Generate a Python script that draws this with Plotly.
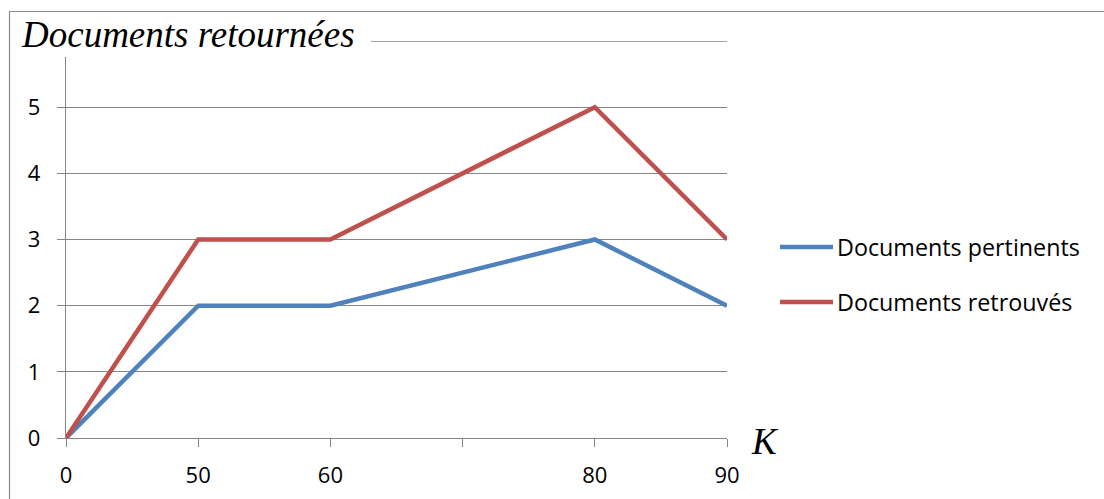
import plotly.graph_objects as go

# K values on the category axis (one unlabeled slot between 60 and 80)
k_labels = ["0", "50", "60", "", "80", "90"]
docs_pertinents = [0, 2, 2, None, 3, 2]
docs_retrouves = [0, 3, 3, None, 5, 3]
series_names = ["Documents pertinents", "Documents retrouvés"]
series_colors = ["#4F81BD", "#C0504D"]
y_tick_vals = [0, 1, 2, 3, 4, 5, 6]
y_tick_text = ["0", "1", "2", "3", "4", "5", ""]
y_max = 6

W, H = 1104, 499
L, R, T, B = 66, 727, 41, 438  # plot area edges in pixels


def px(x):
    return (x - L) / (R - L)


def py(y):
    return (B - y) / (B - T)


x_idx = list(range(len(k_labels)))
fig = go.Figure()
for name, vals, col in zip(series_names, [docs_pertinents, docs_retrouves], series_colors):
    fig.add_trace(go.Scatter(
        x=x_idx, y=vals, name=name, mode="lines", connectgaps=True,
        line=dict(color=col, width=4.5), showlegend=False,
    ))

grey = "#868686"
tick_font = dict(family="Open Sans, Calibri, sans-serif", size=22, color="#000000")
legend_font = dict(family="Open Sans, Calibri, sans-serif", size=23.3, color="#000000")

fig.update_layout(
    width=W, height=H,
    margin=dict(l=L, r=W - R, t=T, b=H - B, autoexpand=False),
    paper_bgcolor="white", plot_bgcolor="white",
    xaxis=dict(
        range=[0, len(k_labels) - 1], tickvals=x_idx, ticktext=k_labels,
        showgrid=False, zeroline=False, showline=True, linecolor=grey, linewidth=1.3,
        ticks="outside", ticklen=8, tickcolor=grey, tickwidth=1.3,
        tickfont=tick_font, ticklabelstandoff=9, automargin=False,
    ),
    yaxis=dict(
        range=[0, y_max], tickvals=y_tick_vals, ticktext=y_tick_text,
        showgrid=True, gridcolor=grey, gridwidth=1.3, zeroline=False,
        showline=True, linecolor=grey, linewidth=1.3,
        ticks="outside", ticklen=8, tickcolor=grey, tickwidth=1.3,
        tickfont=tick_font, ticklabelstandoff=12, automargin=False,
    ),
    showlegend=False,
)

shapes = []
# top gridline at the upper end of the value axis
shapes.append(dict(type="line", xref="x", yref="y", layer="below",
                   x0=x_idx[0], x1=x_idx[-1], y0=y_max, y1=y_max,
                   line=dict(color=grey, width=1.3)))
# white box behind the axis title at top-left
shapes.append(dict(type="rect", xref="paper", yref="paper", layer="above",
                   x0=px(10.5), x1=px(371), y0=py(12), y1=py(57),
                   fillcolor="white", line=dict(width=0)))
# outer chart frame
shapes.append(dict(type="rect", xref="paper", yref="paper", layer="above",
                   x0=px(9.5), x1=px(1120), y0=py(11.5), y1=py(520),
                   fillcolor="rgba(0,0,0,0)", line=dict(color="#8a8a8a", width=1.2)))

# legend
legend_y = [247, 302]
annotations = []
for name, col, yy in zip(series_names, series_colors, legend_y):
    shapes.append(dict(type="line", xref="paper", yref="paper", layer="above",
                       x0=px(780), x1=px(833), y0=py(yy), y1=py(yy),
                       line=dict(color=col, width=4.5)))
    annotations.append(dict(xref="paper", yref="paper", x=px(835), y=py(yy),
                            xanchor="left", yanchor="middle", showarrow=False,
                            text=name, font=legend_font))

serif = dict(family="Liberation Serif, Times New Roman, serif", size=37,
             color="#000000", style="italic")
annotations.append(dict(xref="paper", yref="paper", x=px(19), y=py(35),
                        xanchor="left", yanchor="middle", showarrow=False,
                        text="Documents retournées", font=serif))
annotations.append(dict(xref="paper", yref="paper", x=px(749), y=py(441),
                        xanchor="left", yanchor="middle", showarrow=False,
                        text="K", font=serif))

fig.update_layout(shapes=shapes, annotations=annotations)
fig.write_html("out.html")
